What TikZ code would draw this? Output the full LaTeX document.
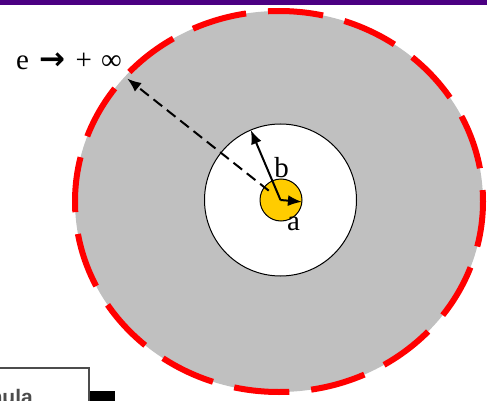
\documentclass[tikz,border=0pt]{standalone}
\usepackage{fontspec}
\setmainfont{Liberation Serif}
\newfontfamily\arrowfont{DejaVu Sans}
\newfontfamily\boxfont{Liberation Sans}
\usetikzlibrary{shapes.geometric,arrows.meta}
\definecolor{barpurple}{RGB}{75,0,130}
\definecolor{discgray}{RGB}{192,192,192}
\definecolor{coreyellow}{RGB}{255,204,0}
\begin{document}
\begin{tikzpicture}[x=1pt,y=-1pt,
  lbl/.style={font=\fontsize{29}{29}\selectfont, inner sep=0pt},
  arr/.style={line width=2pt, -{Latex[length=14pt,width=11pt]}},
  disc/.style={inner sep=0pt, outer sep=0pt},
]
\useasboundingbox (0,0) rectangle (487,401);
\fill[barpurple] (0,0) rectangle (487,5.5);
\node[disc, ellipse, fill=discgray, draw=red, line width=6pt,
  dash pattern=on 55.4pt off 22pt, dash phase=44pt,
  minimum width=408pt, minimum height=381pt] (outer) at (279,201.5) {};
\node[disc, circle, fill=white, draw=black, line width=1pt, minimum size=152pt] (mid) at (280.5,200) {};
\node[disc, circle, fill=coreyellow, draw=black, line width=1pt, minimum size=42pt] (core) at (281,200) {};
\coordinate (c) at (280.5,200);
\draw[arr, dash pattern=on 11pt off 6pt, shorten <=15pt, shorten >=3pt] (c) -- (outer.141);
\draw[arr] (c) -- (mid.113);
\draw[arr] (c) -- (core.-5);
\node[lbl, anchor=base] (lb) at (281.5,177) {b};
\node[lbl, anchor=base] (la) at (293.5,230) {a};
\node[lbl, anchor=base west] (lim) at (16,70) {e\hspace{3pt} {\arrowfont\bfseries\fontsize{31}{31}\selectfont →}\hspace{3pt} +\hspace{2pt} ∞};
\fill[black] (20,391) rectangle (115,430);
\draw[line width=1.5pt, draw=black!70, fill=white] (-20,368) rectangle (89,430);
\node[font=\boxfont\bfseries\fontsize{21}{21}\selectfont, text=black!70, anchor=base east, inner sep=0pt] (formula) at (33,404) {Formula};
\end{tikzpicture}
\end{document}
